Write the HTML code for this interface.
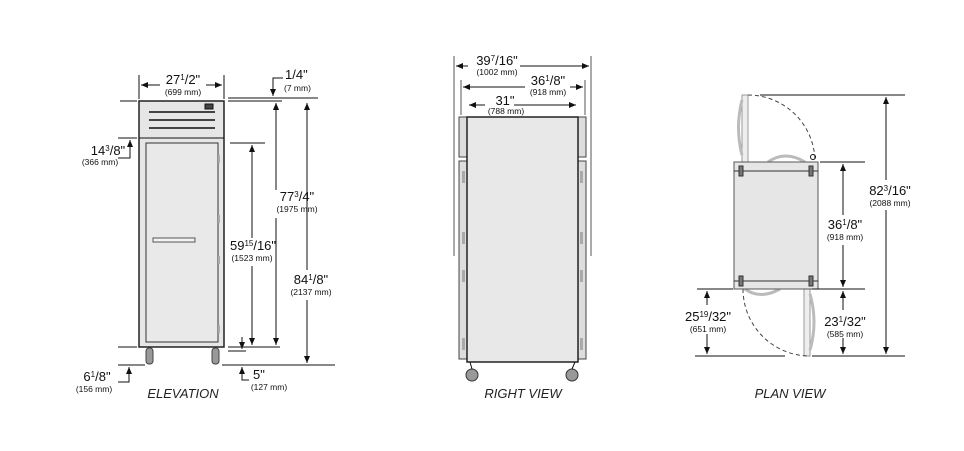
<!DOCTYPE html>
<html><head><meta charset="utf-8"><style>
html,body{margin:0;padding:0;background:#fff;}
svg{display:block;}
text{font-family:"Liberation Sans",sans-serif;fill:#111;}
.b{font-size:13px;}
.s{font-size:8.5px;}
.t{font-size:13px;font-style:italic;fill:#222;}
</style></head><body>
<svg width="964" height="451" viewBox="0 0 964 451" xmlns="http://www.w3.org/2000/svg">
<defs>
<marker id="a" markerWidth="8" markerHeight="8" refX="7" refY="4" orient="auto" markerUnits="userSpaceOnUse">
<path d="M0,1 L7,4 L0,7 Z" fill="#111"/></marker>
</defs>
<g stroke="#111" stroke-width="1" fill="none">
<!-- ELEVATION -->
<rect x="139" y="101" width="85" height="246" fill="#e6e6e6" stroke="#222" stroke-width="1.5"/>
<line x1="139" y1="138" x2="224" y2="138"/>
<rect x="146" y="143" width="72" height="199" fill="#e9e9e9" stroke="#333"/>
<line x1="149" y1="112" x2="215" y2="112" stroke="#444" stroke-width="2"/>
<line x1="149" y1="120" x2="215" y2="120" stroke="#444" stroke-width="2"/>
<line x1="149" y1="128" x2="215" y2="128" stroke="#444" stroke-width="2"/>
<rect x="205" y="104" width="8" height="5" fill="#444"/>
<rect x="153" y="238" width="42" height="4" fill="#f4f4f4" stroke="#555"/>
<rect x="218" y="155" width="2" height="8" fill="#aaa" stroke="none"/>
<rect x="218" y="215" width="2" height="8" fill="#aaa" stroke="none"/>
<rect x="218" y="256" width="2" height="8" fill="#aaa" stroke="none"/>
<rect x="218" y="325" width="2" height="8" fill="#aaa" stroke="none"/>
<rect x="146" y="348" width="7" height="16" rx="3" fill="#999" stroke="#444"/>
<rect x="212" y="348" width="7" height="16" rx="3" fill="#999" stroke="#444"/>
<line x1="139" y1="75" x2="139" y2="99"/><line x1="224" y1="75" x2="224" y2="99"/>
<line x1="160" y1="85" x2="141" y2="85" marker-end="url(#a)"/>
<line x1="206" y1="85" x2="222" y2="85" marker-end="url(#a)"/>
<line x1="120" y1="101" x2="137" y2="101"/>
<line x1="228" y1="98" x2="318" y2="98"/>
<line x1="228" y1="101" x2="282" y2="101"/>
<path d="M283,78 L273,78 L273,96" marker-end="url(#a)"/>
<line x1="276" y1="120" x2="276" y2="103" marker-end="url(#a)"/>
<line x1="276" y1="190" x2="276" y2="103" marker-end="url(#a)"/>
<line x1="276" y1="218" x2="276" y2="345" marker-end="url(#a)"/>
<line x1="307" y1="270" x2="307" y2="103" marker-end="url(#a)"/>
<line x1="307" y1="300" x2="307" y2="363" marker-end="url(#a)"/>
<line x1="230" y1="143" x2="265" y2="143"/>
<line x1="252" y1="238" x2="252" y2="145" marker-end="url(#a)"/>
<line x1="252" y1="266" x2="252" y2="345" marker-end="url(#a)"/>
<line x1="118" y1="347" x2="137" y2="347"/>
<line x1="228" y1="347" x2="280" y2="347"/>
<line x1="228" y1="351" x2="246" y2="351"/>
<line x1="242" y1="337" x2="242" y2="349" marker-end="url(#a)"/>
<line x1="222" y1="365" x2="335" y2="365"/>
<line x1="118" y1="365" x2="145" y2="365"/>
<path d="M249,380 L242,380 L242,367" marker-end="url(#a)"/>
<path d="M118,158 L130,158 L130,140" marker-end="url(#a)"/>
<line x1="118" y1="138" x2="137" y2="138"/>
<path d="M118,382 L129,382 L129,367" marker-end="url(#a)"/>

<!-- RIGHT VIEW -->
<rect x="459" y="117" width="8" height="40" fill="#ddd" stroke="#444"/>
<rect x="459" y="161" width="8" height="198" fill="#ddd" stroke="#444"/>
<rect x="578" y="117" width="8" height="40" fill="#ddd" stroke="#444"/>
<rect x="578" y="161" width="8" height="198" fill="#ddd" stroke="#444"/>
<rect x="467" y="117" width="111" height="245" fill="#e8e8e8" stroke="#222" stroke-width="1.5"/>
<g fill="#aaa" stroke="none">
<rect x="462" y="171" width="3" height="12"/><rect x="462" y="232" width="3" height="12"/><rect x="462" y="270" width="3" height="12"/><rect x="462" y="338" width="3" height="12"/>
<rect x="580" y="171" width="3" height="12"/><rect x="580" y="232" width="3" height="12"/><rect x="580" y="270" width="3" height="12"/><rect x="580" y="338" width="3" height="12"/>
</g>
<circle cx="472" cy="375" r="6" fill="#999" stroke="#333"/>
<circle cx="572" cy="375" r="6" fill="#999" stroke="#333"/>
<line x1="470" y1="362" x2="472" y2="369"/><line x1="575" y1="362" x2="572" y2="369"/>
<line x1="454" y1="56" x2="454" y2="256" stroke="#555"/>
<line x1="591" y1="56" x2="591" y2="256" stroke="#555"/>
<line x1="468" y1="66" x2="456" y2="66" marker-end="url(#a)"/>
<line x1="520" y1="66" x2="589" y2="66" marker-end="url(#a)"/>
<line x1="461" y1="80" x2="461" y2="115" stroke="#555"/>
<line x1="585" y1="80" x2="585" y2="115" stroke="#555"/>
<line x1="525" y1="87" x2="463" y2="87" marker-end="url(#a)"/>
<line x1="570" y1="87" x2="583" y2="87" marker-end="url(#a)"/>
<line x1="485" y1="105" x2="469" y2="105" marker-end="url(#a)"/>
<line x1="514" y1="105" x2="576" y2="105" marker-end="url(#a)"/>

<!-- PLAN VIEW -->
<rect x="742" y="95" width="6" height="67" fill="#eee" stroke="#999"/>
<rect x="804" y="289" width="6" height="67" fill="#eee" stroke="#999"/>
<path d="M748,95 A67,67 0 0 1 815,162" stroke="#444" stroke-dasharray="4,3"/>
<path d="M743,289 A67,67 0 0 0 810,356" stroke="#444" stroke-dasharray="4,3"/>
<path d="M742,100 Q735,128 742,155" stroke="#bbb" stroke-width="3"/>
<path d="M810,294 Q818,322 810,350" stroke="#bbb" stroke-width="3"/>
<path d="M768,162 Q785,150 805,162" stroke="#bbb" stroke-width="3"/>
<path d="M745,289 Q760,300 780,289" stroke="#bbb" stroke-width="3"/>
<circle cx="813" cy="157" r="2.5"/>
<rect x="734" y="162" width="84" height="127" fill="#e6e6e6" stroke="#555"/>
<line x1="734" y1="171" x2="818" y2="171" stroke="#333"/>
<line x1="734" y1="281" x2="818" y2="281" stroke="#333"/>
<rect x="739" y="166" width="4" height="10" fill="#777" stroke="#333"/>
<rect x="809" y="166" width="4" height="10" fill="#777" stroke="#333"/>
<rect x="739" y="276" width="4" height="10" fill="#777" stroke="#333"/>
<rect x="809" y="276" width="4" height="10" fill="#777" stroke="#333"/>
<line x1="760" y1="95" x2="905" y2="95"/>
<line x1="820" y1="162" x2="865" y2="162"/>
<line x1="697" y1="289" x2="733" y2="289"/>
<line x1="812" y1="289" x2="865" y2="289"/>
<line x1="695" y1="356" x2="785" y2="356"/>
<line x1="812" y1="356" x2="905" y2="356"/>
<line x1="886" y1="180" x2="886" y2="97" marker-end="url(#a)"/>
<line x1="886" y1="210" x2="886" y2="354" marker-end="url(#a)"/>
<line x1="843" y1="215" x2="843" y2="164" marker-end="url(#a)"/>
<line x1="843" y1="245" x2="843" y2="287" marker-end="url(#a)"/>
<line x1="843" y1="310" x2="843" y2="291" marker-end="url(#a)"/>
<line x1="843" y1="338" x2="843" y2="354" marker-end="url(#a)"/>
<line x1="707" y1="305" x2="707" y2="291" marker-end="url(#a)"/>
<line x1="707" y1="334" x2="707" y2="354" marker-end="url(#a)"/>
</g>
<!-- TEXT -->
<text class="b" x="183" y="84" text-anchor="middle">27<tspan font-size="8" dy="-4">1</tspan><tspan dy="4">/2"</tspan></text>
<text class="s" x="183" y="95" text-anchor="middle">(699 mm)</text>
<text class="b" x="285" y="79">1/4"</text>
<text class="s" x="284" y="91">(7 mm)</text>
<text class="b" x="108" y="155" text-anchor="middle">14<tspan font-size="8" dy="-4">3</tspan><tspan dy="4">/8"</tspan></text>
<text class="s" x="100" y="165" text-anchor="middle">(366 mm)</text>
<text class="b" x="297" y="201" text-anchor="middle">77<tspan font-size="8" dy="-4">3</tspan><tspan dy="4">/4"</tspan></text>
<text class="s" x="297" y="212" text-anchor="middle">(1975 mm)</text>
<text class="b" x="253" y="250" text-anchor="middle">59<tspan font-size="8" dy="-4">15</tspan><tspan dy="4">/16"</tspan></text>
<text class="s" x="252" y="261" text-anchor="middle">(1523 mm)</text>
<text class="b" x="311" y="284" text-anchor="middle">84<tspan font-size="8" dy="-4">1</tspan><tspan dy="4">/8"</tspan></text>
<text class="s" x="311" y="295" text-anchor="middle">(2137 mm)</text>
<text class="b" x="97" y="381" text-anchor="middle">6<tspan font-size="8" dy="-4">1</tspan><tspan dy="4">/8"</tspan></text>
<text class="s" x="94" y="392" text-anchor="middle">(156 mm)</text>
<text class="b" x="253" y="379">5"</text>
<text class="s" x="269" y="390" text-anchor="middle">(127 mm)</text>
<text class="t" x="183" y="398" text-anchor="middle">ELEVATION</text>

<text class="b" x="497" y="65" text-anchor="middle">39<tspan font-size="8" dy="-4">7</tspan><tspan dy="4">/16"</tspan></text>
<text class="s" x="497" y="75" text-anchor="middle">(1002 mm)</text>
<text class="b" x="548" y="85" text-anchor="middle">36<tspan font-size="8" dy="-4">1</tspan><tspan dy="4">/8"</tspan></text>
<text class="s" x="548" y="95" text-anchor="middle">(918 mm)</text>
<text class="b" x="505" y="105" text-anchor="middle">31"</text>
<text class="s" x="506" y="114" text-anchor="middle">(788 mm)</text>
<text class="t" x="523" y="398" text-anchor="middle">RIGHT VIEW</text>

<text class="b" x="890" y="195" text-anchor="middle">82<tspan font-size="8" dy="-4">3</tspan><tspan dy="4">/16"</tspan></text>
<text class="s" x="890" y="206" text-anchor="middle">(2088 mm)</text>
<text class="b" x="845" y="229" text-anchor="middle">36<tspan font-size="8" dy="-4">1</tspan><tspan dy="4">/8"</tspan></text>
<text class="s" x="845" y="240" text-anchor="middle">(918 mm)</text>
<text class="b" x="845" y="326" text-anchor="middle">23<tspan font-size="8" dy="-4">1</tspan><tspan dy="4">/32"</tspan></text>
<text class="s" x="845" y="337" text-anchor="middle">(585 mm)</text>
<text class="b" x="708" y="321" text-anchor="middle">25<tspan font-size="8" dy="-4">19</tspan><tspan dy="4">/32"</tspan></text>
<text class="s" x="708" y="332" text-anchor="middle">(651 mm)</text>
<text class="t" x="790" y="398" text-anchor="middle">PLAN VIEW</text>
</svg>
</body></html>
